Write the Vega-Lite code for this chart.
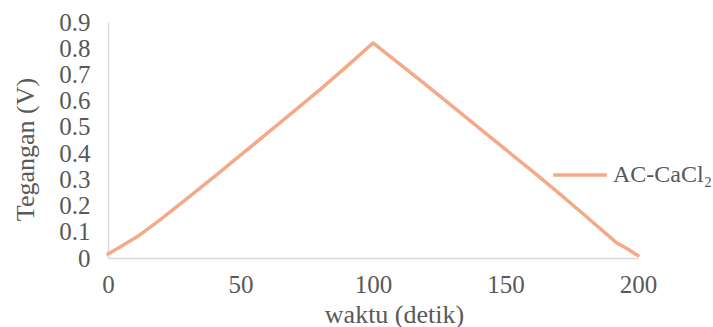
{
  "$schema": "https://vega.github.io/schema/vega-lite/v6.json",
  "width": 530,
  "height": 236,
  "autosize": {"type": "none"},
  "padding": {"left": 108, "top": 22, "right": 75, "bottom": 69},
  "background": "white",
  "config": {
    "view": {"stroke": null},
    "font": "Liberation Serif",
    "axis": {
      "grid": false,
      "ticks": false,
      "labelFlush": false,
      "labelOverlap": false,
      "domainColor": "#D9D9D9",
      "domainWidth": 1.5,
      "labelFont": "Liberation Serif",
      "labelFontSize": 25,
      "labelColor": "#595959",
      "titleFont": "Liberation Serif",
      "titleFontSize": 26,
      "titleFontWeight": "normal",
      "titleColor": "#595959"
    },
    "legend": {
      "labelFont": "Liberation Serif",
      "labelFontSize": 24,
      "labelColor": "#595959",
      "labelLimit": 200
    }
  },
  "data": {
    "values": [
      {"t": 0, "v": 0.015, "s": "AC-CaCl₂"},
      {"t": 5, "v": 0.045, "s": "AC-CaCl₂"},
      {"t": 10, "v": 0.075, "s": "AC-CaCl₂"},
      {"t": 12, "v": 0.088, "s": "AC-CaCl₂"},
      {"t": 20, "v": 0.148, "s": "AC-CaCl₂"},
      {"t": 30, "v": 0.228, "s": "AC-CaCl₂"},
      {"t": 40, "v": 0.309, "s": "AC-CaCl₂"},
      {"t": 50, "v": 0.392, "s": "AC-CaCl₂"},
      {"t": 60, "v": 0.475, "s": "AC-CaCl₂"},
      {"t": 70, "v": 0.558, "s": "AC-CaCl₂"},
      {"t": 80, "v": 0.642, "s": "AC-CaCl₂"},
      {"t": 90, "v": 0.73, "s": "AC-CaCl₂"},
      {"t": 100, "v": 0.82, "s": "AC-CaCl₂"},
      {"t": 110, "v": 0.74, "s": "AC-CaCl₂"},
      {"t": 120, "v": 0.66, "s": "AC-CaCl₂"},
      {"t": 130, "v": 0.578, "s": "AC-CaCl₂"},
      {"t": 140, "v": 0.496, "s": "AC-CaCl₂"},
      {"t": 150, "v": 0.414, "s": "AC-CaCl₂"},
      {"t": 160, "v": 0.332, "s": "AC-CaCl₂"},
      {"t": 170, "v": 0.248, "s": "AC-CaCl₂"},
      {"t": 180, "v": 0.162, "s": "AC-CaCl₂"},
      {"t": 190, "v": 0.075, "s": "AC-CaCl₂"},
      {"t": 192, "v": 0.057, "s": "AC-CaCl₂"},
      {"t": 196, "v": 0.035, "s": "AC-CaCl₂"},
      {"t": 199, "v": 0.015, "s": "AC-CaCl₂"},
      {"t": 200, "v": 0.01, "s": "AC-CaCl₂"}
    ]
  },
  "mark": {"type": "line", "strokeWidth": 3.5, "strokeJoin": "round", "strokeCap": "round"},
  "encoding": {
    "x": {
      "field": "t", "type": "quantitative",
      "scale": {"domain": [0, 200], "nice": false},
      "axis": {"values": [0, 50, 100, 150, 200], "title": "waktu (detik)", "labelPadding": 14,
        "titleX": 286, "titleY": 64, "titleBaseline": "alphabetic", "titleAlign": "center", "titleAnchor": null}
    },
    "y": {
      "field": "v", "type": "quantitative",
      "scale": {"domain": [0, 0.9], "nice": false},
      "axis": {"values": [0, 0.1, 0.2, 0.3, 0.4, 0.5, 0.6, 0.7, 0.8, 0.9], "title": "Tegangan (V)", "labelPadding": 18,
        "titleX": -83, "titleY": 127, "titleBaseline": "middle", "titleAlign": "center", "titleAngle": -90,
        "labelExpr": "datum.value == 0 ? '0' : format(datum.value, '.1f')"}
    },
    "color": {
      "field": "s", "type": "nominal",
      "scale": {"range": ["#F4AA88"]},
      "legend": {"orient": "none", "legendX": 443, "legendY": 124, "title": null, "symbolType": "stroke", "symbolSize": 2900, "symbolStrokeWidth": 3.5, "labelOffset": 4}
    }
  }
}
